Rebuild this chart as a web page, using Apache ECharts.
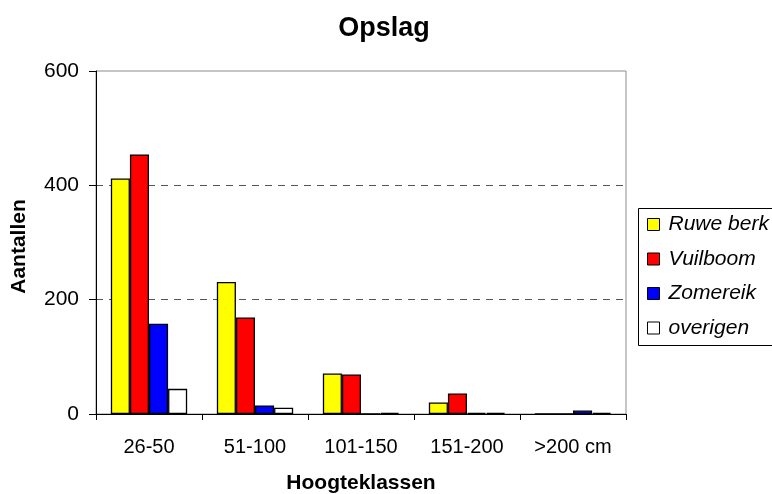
<!DOCTYPE html>
<html>
<head>
<meta charset="utf-8">
<script src="https://cdn.jsdelivr.net/npm/echarts@6/dist/echarts.min.js"></script>
<style>
  html, body { margin: 0; padding: 0; background: #fff; }
  #chart { width: 772px; height: 494px; }
</style>
</head>
<body>
<div id="chart"></div>
<script>
// Height classes and counts per tree species
const categories = ['26-50', '51-100', '101-150', '151-200', '>200 cm'];
const ruweBerk = [412, 231, 71, 20, 0];
const vuilboom = [454, 169, 69, 36, 0];
const zomereik = [158, 15, 0, 2, 6];
const overigen = [44, 11, 2, 2, 2];
const gridValues = [200, 400];

const seriesNames = ['Ruwe berk', 'Vuilboom', 'Zomereik', 'overigen'];
const seriesColors = ['#ffff00', '#ff0000', '#0000ff', '#ffffff'];
const seriesValues = [ruweBerk, vuilboom, zomereik, overigen];

const FONT = '"Liberation Sans", Arial, sans-serif';

const chart = echarts.init(document.getElementById('chart'), null, { renderer: 'canvas' });

chart.setOption({
  backgroundColor: '#ffffff',
  animation: false,
  title: {
    text: 'Opslag',
    left: 379,
    top: 10,
    textAlign: 'center',
    textStyle: { fontFamily: FONT, fontSize: 27, fontWeight: 'bold', color: '#000' }
  },
  grid: {
    left: 96, right: 146, top: 71, bottom: 80,
    outerBoundsMode: 'none',
    containLabel: false,
    show: true, borderColor: '#8c8c8c', borderWidth: 1, backgroundColor: 'transparent'
  },
  graphic: [{
    type: 'rect',
    shape: { x: 638.5, y: 208.5, width: 140, height: 137 },
    style: { fill: '#fff', stroke: '#000', lineWidth: 1 },
    z: 0
  }],
  legend: {
    orient: 'vertical',
    left: 647,
    top: 214,
    padding: 0,
    itemWidth: 12,
    itemHeight: 12,
    itemGap: 13.5,
    icon: 'rect',
    z: 5,
    textStyle: { fontFamily: FONT, fontSize: 21, fontStyle: 'italic', color: '#000', padding: [0, 0, 0, 4] },
    data: seriesNames.map((n, i) => ({
      name: n,
      itemStyle: { color: seriesColors[i], borderColor: '#000', borderWidth: 1 }
    }))
  },
  xAxis: {
    type: 'category',
    data: categories,
    name: 'Hoogteklassen',
    nameLocation: 'middle',
    nameGap: 59,
    nameTextStyle: { fontFamily: FONT, fontSize: 21, fontWeight: 'bold', color: '#000' },
    axisLine: { lineStyle: { color: '#000', width: 1 } },
    axisTick: { show: true, length: 6, lineStyle: { color: '#000' } },
    axisLabel: { fontFamily: FONT, fontSize: 20, color: '#000', margin: 23 },
    splitLine: { show: false }
  },
  yAxis: {
    type: 'value',
    min: 0, max: 600, interval: 200,
    name: 'Aantallen',
    nameLocation: 'middle',
    nameGap: 66,
    nameRotate: 90,
    nameTextStyle: { fontFamily: FONT, fontSize: 21, fontWeight: 'bold', color: '#000', padding: [0, 8, 0, 0] },
    axisLine: { show: true, lineStyle: { color: '#000', width: 1 } },
    axisTick: { show: true, length: 7, lineStyle: { color: '#000' } },
    axisLabel: { fontFamily: FONT, fontSize: 21, color: '#000', margin: 17 },
    splitLine: { show: false }
  },
  series: seriesNames.map((n, i) => ({
    name: n,
    type: 'bar',
    data: seriesValues[i],
    barGap: '0%',
    barCategoryGap: '28%',
    itemStyle: { color: seriesColors[i], borderColor: '#000', borderWidth: 1.3 },
    // dashed horizontal gridlines, drawn once behind the bars
    markLine: i === 0 ? {
      silent: true,
      symbol: 'none',
      z: 0,
      label: { show: false },
      lineStyle: { color: '#555', type: [7, 6], width: 1 },
      data: gridValues.map(v => ({ yAxis: v }))
    } : undefined
  }))
});
</script>
</body>
</html>
